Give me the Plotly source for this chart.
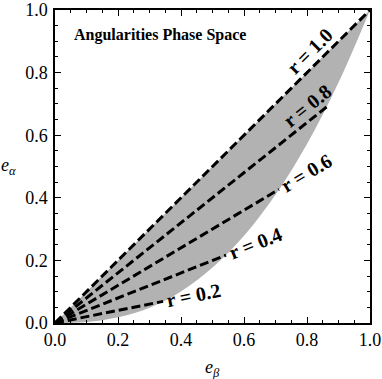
import plotly.graph_objects as go

# ratios r = e_alpha / e_beta for the dashed rays
ratios = [0.2, 0.4, 0.6, 0.8, 1.0]
ray_labels = ['r = 0.2', 'r = 0.4', 'r = 0.6', 'r = 0.8', 'r = 1.0']
# where each ray stops (on the lower edge of the phase space)
ray_end_x = [0.343, 0.543, 0.711, 0.862, 1.0]
ray_end_y = [0.069, 0.217, 0.427, 0.690, 1.0]

# lower edge of the allowed region
edge_x = [0.0, 0.1, 0.2, 0.3, 0.4, 0.5, 0.6, 0.7, 0.8, 0.9, 1.0]
edge_y = [0.0, 0.003, 0.018, 0.049, 0.101, 0.177, 0.279, 0.41, 0.572, 0.768, 1.0]

# upper edge is the r = 1 diagonal
top_x = [0.0, 1.0]
top_y = [0.0, 1.0]

serif = 'Liberation Serif'

fig = go.Figure()

# shaded phase space
fig.add_trace(go.Scatter(x=edge_x, y=edge_y, mode='lines', line=dict(width=0, shape='spline', color='#b2b2b2'),
                         hoverinfo='skip', showlegend=False))
fig.add_trace(go.Scatter(x=top_x, y=top_y, mode='lines', line=dict(width=0, color='#b2b2b2'),
                         fill='tonexty', fillcolor='#b2b2b2', hoverinfo='skip', showlegend=False))

# dashed rays from the origin
for ex, ey in zip(ray_end_x, ray_end_y):
    fig.add_trace(go.Scatter(x=[0, ex], y=[0, ey], mode='lines',
                             line=dict(color='black', width=3, dash='9px,4px'),
                             hoverinfo='skip', showlegend=False))

# label placement (data coords) and rotation in screen degrees
label_pos = [(0.441, 0.089, -11.3), (0.638, 0.256, -21.7), (0.797, 0.479, -30.8),
             (0.800, 0.693, -38.5), (0.808, 0.870, -44.8)]
annotations = []
for txt, (lx, ly, ang) in zip(ray_labels, label_pos):
    annotations.append(dict(x=lx, y=ly, xref='x', yref='y', text='<b>' + txt + '</b>', showarrow=False,
                            textangle=ang, font=dict(family=serif, size=20, color='black')))

annotations.append(dict(x=0.054, y=0.92, xref='x', yref='y', xanchor='left', yanchor='middle',
                        text='<b>Angularities Phase Space</b>', showarrow=False,
                        font=dict(family=serif, size=16, color='black')))
# axis titles
annotations.append(dict(x=0.5, y=-0.145, xref='paper', yref='paper', yanchor='middle',
                        text='<i>e</i><sub><i>β</i></sub>', showarrow=False,
                        font=dict(family=serif, size=18, color='black')))
annotations.append(dict(x=-0.148, y=0.5, xref='paper', yref='paper', xanchor='center',
                        text='<i>e</i><sub><i>α</i></sub>', showarrow=False,
                        font=dict(family=serif, size=18, color='black')))

axis_style = dict(range=[0, 1], dtick=0.2, tickformat='.1f', ticks='inside', ticklen=6, tickwidth=1,
                  tickcolor='black', showline=True, linecolor='black', linewidth=1.5, mirror='allticks',
                  showgrid=False, zeroline=False, automargin=False, ticklabeloverflow='allow',
                  tickfont=dict(family=serif, size=18, color='black'),
                  minor=dict(dtick=0.05, ticks='inside', ticklen=3, tickcolor='black', showgrid=False))

fig.update_layout(
    width=382, height=379,
    margin=dict(l=55, r=12, t=10, b=56),
    plot_bgcolor='white', paper_bgcolor='white',
    font=dict(family=serif),
    xaxis=dict(axis_style, ticklabelstandoff=0),
    yaxis=dict(axis_style, ticklabelstandoff=2),
    annotations=annotations,
)

# drop the browser's default body margin so the figure fills the window
fig.write_html("out.html", config={'displayModeBar': False},
               post_script="document.body.style.margin = '0';")
